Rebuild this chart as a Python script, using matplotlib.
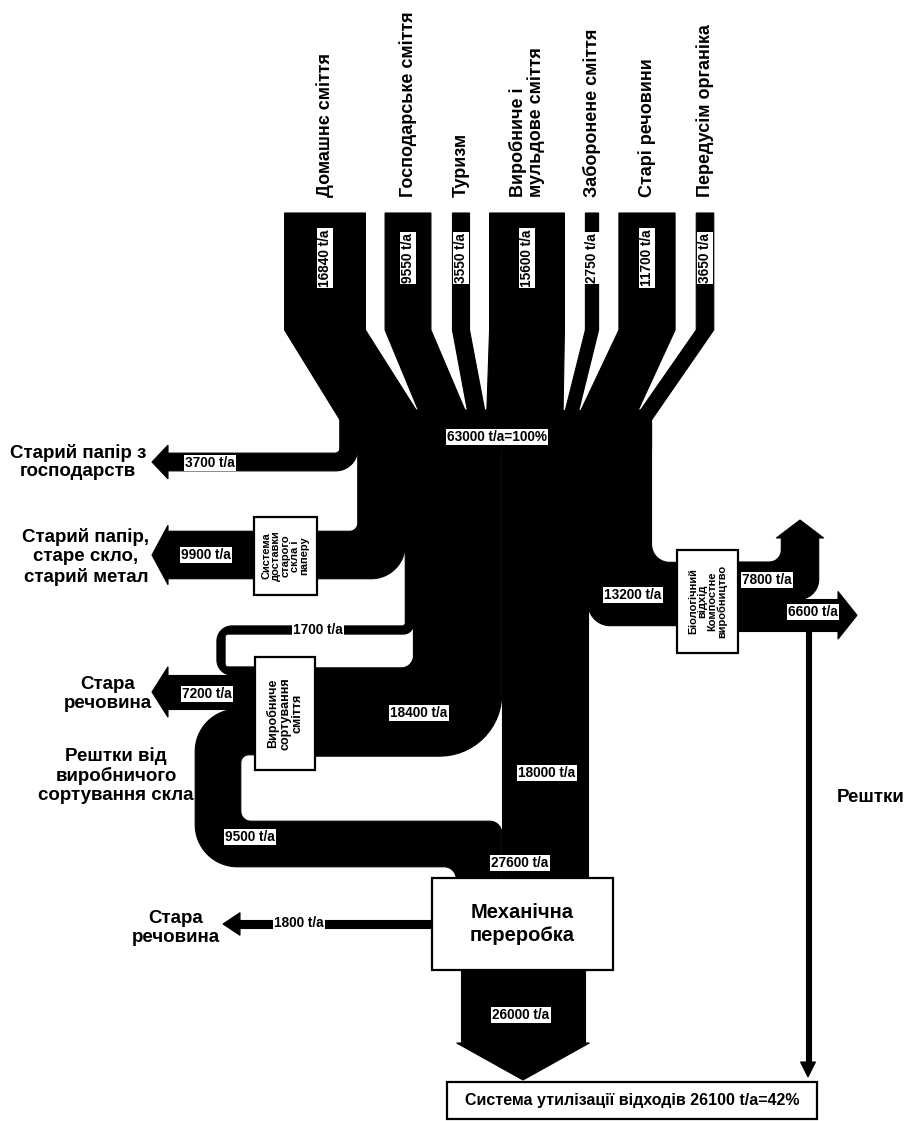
import numpy as np
import matplotlib.pyplot as plt
from matplotlib.patches import Polygon, Rectangle

# ---- data (t/a) ----
sources = ['Домашнє сміття', 'Господарське сміття', 'Туризм',
           'Виробниче і\nмульдове сміття', 'Заборонене сміття',
           'Старі речовини', 'Передусім органіка']
source_t = [16840, 9550, 3550, 15600, 2750, 11700, 3650]
total_t = 63000
total_pct = 100

paper_households_t = 3700
paper_glass_metal_t = 9900
sorting_loop_t = 1700
to_sorting_t = 18400
direct_t = 18000
to_compost_t = 13200
sorting_old_t = 7200
sorting_glass_t = 9500
to_mech_t = 27600
mech_old_t = 1800
mech_out_t = 26000
compost_up_t = 7800
compost_rest_t = 6600
final_t = 26100
final_pct = 42

# ---- layout ----
S = 0.0048            # px per t/a
INK = 'black'
FONT = ['Liberation Sans', 'DejaVu Sans']
SOURCE_X = [325, 408, 461, 527, 592, 647, 705]
Y_TOP, Y_BEND, Y_MERGE = 213, 330, 420
X0 = 340


def wd(t):
    return t * S


def unit(v):
    return v / np.hypot(*v)


def offset_line(pts, d):
    out = []
    n = len(pts)
    for i in range(n):
        if i == 0 or i == n - 1:
            t = unit(pts[1] - pts[0]) if i == 0 else unit(pts[-1] - pts[-2])
            out.append(pts[i] + np.array([-t[1], t[0]]) * d)
        else:
            t1, t2 = unit(pts[i] - pts[i - 1]), unit(pts[i + 1] - pts[i])
            n1, n2 = np.array([-t1[1], t1[0]]), np.array([-t2[1], t2[0]])
            out.append(pts[i] + (n1 + n2) / (1 + n1 @ n2) * d)
    return np.array(out)


def fillet(pts, radii, n=16):
    out = [pts[0]]
    m = len(pts)
    for i in range(1, m - 1):
        p0, p, p1 = pts[i - 1], pts[i], pts[i + 1]
        t1, t2 = unit(p - p0), unit(p1 - p)
        cr = t1[0] * t2[1] - t1[1] * t2[0]
        r = radii[i - 1]
        if r <= 0 or abs(cr) < 1e-9:
            out.append(p)
            continue
        ang = np.arccos(np.clip(t1 @ t2, -1, 1))
        tl = r * np.tan(ang / 2)
        f1 = 0.95 if i == 1 else 0.5
        f2 = 0.95 if i == m - 2 else 0.5
        tl = min(tl, f1 * np.hypot(*(p - p0)), f2 * np.hypot(*(p1 - p)))
        r = tl / np.tan(ang / 2)
        s, e = p - t1 * tl, p + t2 * tl
        c = s + np.array([-t1[1], t1[0]]) * np.sign(cr) * r
        a0 = np.arctan2(s[1] - c[1], s[0] - c[0])
        a1 = np.arctan2(e[1] - c[1], e[0] - c[0])
        da = (a1 - a0 + np.pi) % (2 * np.pi) - np.pi
        for a in np.linspace(0, 1, n):
            out.append(c + r * np.array([np.cos(a0 + da * a), np.sin(a0 + da * a)]))
    out.append(pts[-1])
    return np.array(out)


def blob(ax, poly, z=1):
    # thin outline in the same ink hides seams between touching strips
    ax.add_patch(Polygon(poly, closed=True, fc=INK, ec=INK, lw=0.8, zorder=z))


def band(ax, pts, width, r_in=6, r_out=None, z=1):
    pts = np.asarray(pts, float)
    k = len(pts) - 2
    r_in = list(r_in) if np.iterable(r_in) else [r_in] * k
    if r_out is None:
        r_out = [r + width for r in r_in]
    elif not np.iterable(r_out):
        r_out = [r_out] * k
    rl, rr = [], []
    for i in range(1, len(pts) - 1):
        t1, t2 = unit(pts[i] - pts[i - 1]), unit(pts[i + 1] - pts[i])
        cr = t1[0] * t2[1] - t1[1] * t2[0]
        if cr > 0:
            rl.append(r_in[i - 1]); rr.append(r_out[i - 1])
        else:
            rl.append(r_out[i - 1]); rr.append(r_in[i - 1])
    left = fillet(offset_line(pts, width / 2), rl)
    right = fillet(offset_line(pts, -width / 2), rr)
    blob(ax, np.vstack([left, right[::-1]]), z)


def head(ax, base, direction, width, flare=8, length=16, z=1):
    base = np.asarray(base, float)
    d = unit(np.asarray(direction, float))
    nrm = np.array([-d[1], d[0]])
    hw = width / 2 + flare
    blob(ax, [base + nrm * hw, base + d * length, base - nrm * hw], z)


def tag(ax, x, y, txt, rot=0, size=9.8):
    ax.text(x, y, txt, rotation=rot, ha='center', va='center', fontsize=size,
            fontweight='bold', family=FONT, zorder=6,
            bbox=dict(boxstyle='square,pad=0.1', fc='white', ec='none'))


def box(ax, x0, y0, x1, y1, txt, rot=0, size=9, ls=1.0):
    ax.add_patch(Rectangle((x0, y0), x1 - x0, y1 - y0, fc='white', ec=INK,
                           lw=1.6, zorder=4))
    ax.text((x0 + x1) / 2, (y0 + y1) / 2, txt, rotation=rot, ha='center',
            va='center', fontsize=size, fontweight='bold', family=FONT,
            linespacing=ls, zorder=5)


fig = plt.figure(figsize=(9.10, 11.21), dpi=100)
ax = fig.add_axes([0, 0, 1, 1])
ax.set_xlim(0, 910)
ax.set_ylim(1121, 0)
ax.axis('off')

# ---- trunk strips (left to right) ----
strip_t = [paper_households_t, paper_glass_metal_t, sorting_loop_t,
           to_sorting_t, direct_t, to_compost_t]
edges = X0 + np.concatenate([[0], np.cumsum([wd(v) for v in strip_t])])
cxs = (edges[:-1] + edges[1:]) / 2
trunk_right = edges[-1]

# ---- sources converging into trunk ----
sw = np.array([wd(v) for v in source_t])
k = (trunk_right - X0) / sw.sum()
cum = X0 + np.concatenate([[0], np.cumsum(sw)]) * k
for i, (cx, w) in enumerate(zip(SOURCE_X, sw)):
    tl, tr = cum[i], cum[i + 1]
    poly = [(cx - w / 2, Y_TOP), (cx + w / 2, Y_TOP), (cx + w / 2, Y_BEND),
            (tr, Y_MERGE), (tr, Y_MERGE + 30), (tl, Y_MERGE + 30),
            (tl, Y_MERGE), (cx - w / 2, Y_BEND)]
    blob(ax, poly)
    ax.text(cx, 197, sources[i], rotation=90, ha='center', va='bottom',
            fontsize=13, fontweight='bold', family=FONT, multialignment='left',
            linespacing=1.05)
    tag(ax, cx, 258, f'{source_t[i]} t/a', rot=90)

ys = Y_MERGE - 10
# old paper from households
w = wd(paper_households_t)
band(ax, [(cxs[0], ys), (cxs[0], 462), (168, 462)], w, r_in=5, r_out=22)
head(ax, (168, 462), (-1, 0), w)
# paper, glass, metal
w = wd(paper_glass_metal_t)
band(ax, [(cxs[1], ys), (cxs[1], 555), (168, 555)], w, r_in=8, r_out=34)
head(ax, (168, 555), (-1, 0), w, flare=6)
# loop 1700 into sorting
w = wd(sorting_loop_t)
band(ax, [(cxs[2], ys), (cxs[2], 630), (221, 630), (221, 671), (290, 671)], w,
     r_in=[3, 3, 3], r_out=[10, 15, 15])
# 18400 into sorting
w = wd(to_sorting_t)
band(ax, [(cxs[3], ys), (cxs[3], 712), (290, 712)], w, r_in=12, r_out=62)
# direct 18000
w = wd(direct_t)
band(ax, [(cxs[4], ys), (cxs[4], 895)], w)
# 13200 to compost
w = wd(to_compost_t)
band(ax, [(cxs[5], ys), (cxs[5], 594), (700, 594)], w, r_in=18, r_out=22)

# sorting outputs
w = wd(sorting_old_t)
band(ax, [(290, 692), (168, 692)], w)
head(ax, (168, 692), (-1, 0), w, flare=8)
w = wd(sorting_glass_t)
xg = edges[4] - w / 2
band(ax, [(290, 732), (218, 732), (218, 844), (xg, 844), (xg, 895)], w,
     r_in=[8, 10, 12], r_out=[42, 42, 12])

# mechanical processing outputs
w = wd(mech_old_t)
band(ax, [(440, 924), (240, 924)], w)
head(ax, (240, 924), (-1, 0), w, flare=7, length=17)
w = wd(mech_out_t)
band(ax, [(523, 960), (523, 1043)], w)
head(ax, (523, 1043), (0, 1), w, flare=4, length=37)

# compost outputs
w_up = wd(compost_up_t)
y_up = 562 + w_up / 2
band(ax, [(720, y_up), (800, y_up), (800, 538)], w_up, r_in=12, r_out=20)
head(ax, (800, 538), (0, -1), w_up, flare=5, length=18)
w_r = wd(compost_rest_t)
y_r = 562 + w_up + w_r / 2
band(ax, [(720, y_r), (838, y_r)], w_r)
head(ax, (838, y_r), (1, 0), w_r, flare=8, length=19)
# residue line
band(ax, [(808, y_r), (808, 1062)], 5)
head(ax, (808, 1062), (0, 1), 5, flare=5, length=15)

# ---- boxes ----
box(ax, 254, 517, 317, 595, 'Система\nдоставки\nстарого\nскла і\nпаперу',
    rot=90, size=8, ls=0.92)
box(ax, 255, 657, 315, 770, 'Виробниче\nсортування\nсміття', rot=90,
    size=9, ls=1.0)
box(ax, 677, 550, 738, 653, 'Біологічний\nвідхід\nКомпостне\nвиробництво',
    rot=90, size=8, ls=0.92)
box(ax, 432, 878, 613, 970, 'Механічна\nпереробка', size=14.5, ls=1.3)
box(ax, 447, 1082, 817, 1119,
    f'Система утилізації відходів {final_t} t/a={final_pct}%', size=11.5)

# ---- flow tags ----
tag(ax, 497, 437, f'{total_t} t/a={total_pct}%')
tag(ax, 210, 463, f'{paper_households_t} t/a')
tag(ax, 206, 555, f'{paper_glass_metal_t} t/a')
tag(ax, 318, 630, f'{sorting_loop_t} t/a')
tag(ax, 207, 694, f'{sorting_old_t} t/a')
tag(ax, 419, 713, f'{to_sorting_t} t/a')
tag(ax, 547, 773, f'{direct_t} t/a')
tag(ax, 250, 837, f'{sorting_glass_t} t/a')
tag(ax, 520, 863, f'{to_mech_t} t/a')
tag(ax, 299, 923, f'{mech_old_t} t/a')
tag(ax, 521, 1015, f'{mech_out_t} t/a')
tag(ax, 633, 595, f'{to_compost_t} t/a')
tag(ax, 767, 580, f'{compost_up_t} t/a')
tag(ax, 813, 612, f'{compost_rest_t} t/a')

# ---- side labels ----
side = dict(ha='center', va='center', fontsize=13.5, fontweight='bold',
            family=FONT, linespacing=1.15)
ax.text(78, 462, 'Старий папір з\nгосподарств', **side)
ax.text(86, 557, 'Старий папір,\nстаре скло,\nстарий метал', **side)
ax.text(108, 694, 'Стара\nречовина', **side)
ax.text(116, 776, 'Рештки від\nвиробничого\nсортування скла', **side)
ax.text(176, 928, 'Стара\nречовина', **side)
ax.text(871, 797, 'Рештки', **side)

fig.savefig('out.png', dpi=100, facecolor='white')
